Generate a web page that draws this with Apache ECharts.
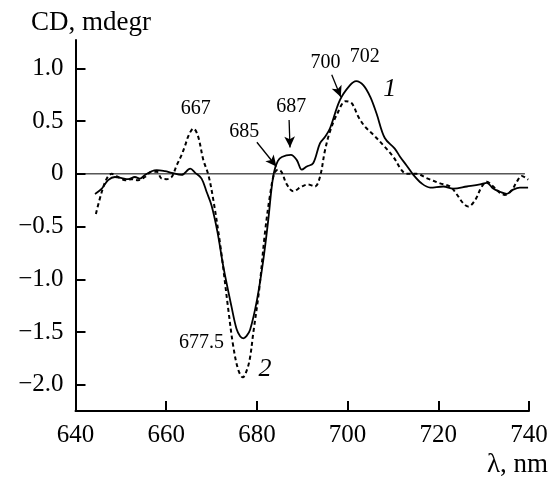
<!DOCTYPE html>
<html>
<head>
<meta charset="utf-8">
<script src="https://cdn.jsdelivr.net/npm/echarts@6/dist/echarts.min.js"></script>
<style>
  html, body { margin: 0; padding: 0; background: #fff; }
  #chart { width: 552px; height: 479px; }
</style>
</head>
<body>
<div id="chart"></div>
<script>
// CD spectrum, curve 1 (solid): [wavelength nm, CD mdegr]
const curve1 = [
  [644.3,-0.19],[645.8,-0.14],[647.2,-0.06],[648.7,-0.03],[650.2,-0.04],[651.6,-0.05],
  [653.1,-0.03],[654.2,-0.045],[655.3,-0.01],[656.8,0.025],[657.9,0.035],[659.7,0.025],
  [661.2,0.01],[663.4,-0.01],[665.3,0.05],[666.4,0.01],[667.8,-0.045],[668.9,-0.17],
  [670.0,-0.30],[671.3,-0.55],[672.6,-0.88],[674.4,-1.26],[675.5,-1.47],[676.3,-1.54],
  [677.0,-1.56],[677.7,-1.54],[678.5,-1.48],[680.0,-1.20],[681.4,-0.82],[682.5,-0.44],
  [683.2,-0.15],[683.8,0.02],[684.6,0.12],[685.5,0.16],[687.5,0.18],[688.8,0.13],
  [689.9,0.04],[691.0,0.07],[692.4,0.10],[693.9,0.29],[695.0,0.35],[696.1,0.43],
  [698.3,0.70],[700.5,0.84],[701.9,0.88],[703.5,0.84],[705.0,0.73],[706.4,0.57],
  [708.2,0.34],[710.4,0.24],[711.6,0.16],[713.0,0.08],[714.5,-0.01],[716.3,-0.09],
  [718.2,-0.13],[721.1,-0.12],[723.3,-0.14],[726.3,-0.12],[729.2,-0.10],[730.7,-0.085],
  [732.1,-0.14],[733.6,-0.17],[735.1,-0.19],[736.5,-0.15],[738.0,-0.13],[739.8,-0.13]
];

// CD spectrum, curve 2 (dashed)
const curve2 = [
  [644.5,-0.38],[645.8,-0.17],[646.9,-0.045],[648.0,0.0],[649.4,-0.03],[651.0,-0.06],
  [652.4,-0.05],[653.8,-0.06],[655.3,-0.03],[656.8,0.02],[657.9,0.02],[659.0,-0.045],
  [660.1,-0.05],[661.2,-0.03],[662.3,0.08],[663.4,0.18],[664.1,0.26],[665.0,0.37],
  [666.0,0.43],[667.0,0.36],[668.2,0.13],[669.3,-0.01],[670.4,-0.25],[672.0,-0.70],
  [673.7,-1.29],[674.8,-1.64],[675.9,-1.86],[676.9,-1.93],[677.8,-1.86],[678.5,-1.74],
  [679.2,-1.51],[680.5,-1.10],[681.8,-0.55],[682.9,-0.20],[683.8,0.0],[684.6,0.04],
  [685.4,0.02],[686.6,-0.10],[688.0,-0.165],[689.9,-0.12],[691.3,-0.10],[692.8,-0.12],
  [693.9,-0.03],[695.0,0.22],[696.1,0.40],[697.6,0.56],[699.6,0.69],[700.9,0.67],
  [702.4,0.54],[703.8,0.45],[705.7,0.37],[707.9,0.27],[710.1,0.16],[711.9,0.035],
  [713.0,0.0],[715.2,0.0],[717.4,-0.04],[720.4,-0.09],[722.6,-0.12],[724.0,-0.19],
  [725.5,-0.28],[726.6,-0.31],[728.1,-0.25],[729.6,-0.12],[730.7,-0.075],[732.1,-0.12],
  [733.6,-0.18],[734.7,-0.20],[736.2,-0.155],[737.3,-0.075],[738.4,-0.02],[739.8,-0.055]
];

// zero reference line
const zeroLine = [[640, 0], [739.1, 0]];

// tick values
const xTicks = [640, 660, 680, 700, 720, 740];
const yTicks = [-2.0, -1.5, -1.0, -0.5, 0, 0.5, 1.0];

// peak labels and curve numbers: [x, y, text]
const peakLabels = [
  [666.5, 0.62, '667'],
  [677.2, 0.40, '685'],
  [687.6, 0.64, '687'],
  [695.1, 1.05, '700'],
  [703.8, 1.11, '702'],
  [667.8, -1.60, '677.5']
];
const curveNames = [
  [709.3, 0.80, '1'],
  [681.8, -1.85, '2']
];

// arrows: [[x0, y0], [x1, y1]]
const arrows = [
  [[680.0, 0.30], [684.3, 0.07]],
  [[687.1, 0.51], [687.3, 0.25]],
  [[696.5, 0.94], [698.5, 0.73]]
];

const FONT = '"Liberation Serif", "DejaVu Serif", serif';
const fmtY = v => v === 0 ? '0' : v.toFixed(1).replace('-', '\u2212');

const chart = echarts.init(document.getElementById('chart'), null, { renderer: 'canvas' });

chart.setOption({
  animation: false,
  backgroundColor: '#ffffff',
  grid: { left: 75.5, right: 23, top: 40, bottom: 68 },
  xAxis: {
    type: 'value',
    min: 640, max: 740, interval: 20,
    axisLine: { show: true, onZero: false, lineStyle: { color: '#000', width: 2 } },
    axisTick: { show: true, inside: true, length: 10, lineStyle: { color: '#000', width: 2 } },
    axisLabel: { color: '#000', fontFamily: FONT, fontSize: 25, margin: 12,
                 customValues: xTicks, formatter: v => String(v) },
    splitLine: { show: false }
  },
  yAxis: {
    type: 'value',
    min: -2.25, max: 1.27,
    axisLine: { show: true, onZero: false, lineStyle: { color: '#000', width: 2 } },
    axisTick: { show: true, inside: true, length: 10, customValues: yTicks,
                lineStyle: { color: '#000', width: 2 } },
    axisLabel: { color: '#000', fontFamily: FONT, fontSize: 25, margin: 12,
                 customValues: yTicks, formatter: fmtY },
    splitLine: { show: false }
  },
  graphic: [
    { type: 'text', left: 31, top: 9,
      style: { text: 'CD, mdegr', font: '27px ' + FONT, fill: '#000' } },
    { type: 'text', right: 4, top: 451,
      style: { text: '\u03bb, nm', font: '27px ' + FONT, fill: '#000' } }
  ],
  series: [
    {
      name: 'zero', type: 'line', data: zeroLine, symbol: 'none', silent: true,
      lineStyle: { color: '#000', width: 1 }
    },
    {
      name: '1', type: 'line', data: curve1, symbol: 'none', smooth: 0.35,
      lineStyle: { color: '#000', width: 1.8, type: 'solid' }
    },
    {
      name: '2', type: 'line', data: curve2, symbol: 'none', smooth: 0.35,
      lineStyle: { color: '#000', width: 2, type: [4, 3] }
    },
    {
      name: 'peaks', type: 'scatter', symbolSize: 0, silent: true,
      itemStyle: { color: '#000', opacity: 1 },
      data: peakLabels.map(d => ({ value: [d[0], d[1]], name: d[2] })),
      label: { show: true, position: 'inside', formatter: p => p.name, opacity: 1,
               color: '#000', textBorderWidth: 0, fontFamily: FONT, fontSize: 20 },
      markLine: {
        silent: true, symbol: ['none', 'arrow'], symbolSize: [8, 11],
        label: { show: false },
        lineStyle: { color: '#000', width: 1.3, type: 'solid', opacity: 1 },
        data: arrows.map(a => [{ coord: a[0] }, { coord: a[1] }])
      }
    },
    {
      name: 'names', type: 'scatter', symbolSize: 0, silent: true,
      itemStyle: { color: '#000', opacity: 1 },
      data: curveNames.map(d => ({ value: [d[0], d[1]], name: d[2] })),
      label: { show: true, position: 'inside', formatter: p => p.name, opacity: 1,
               color: '#000', textBorderWidth: 0, fontFamily: FONT, fontSize: 26,
               fontStyle: 'italic' }
    }
  ]
});
</script>
</body>
</html>
